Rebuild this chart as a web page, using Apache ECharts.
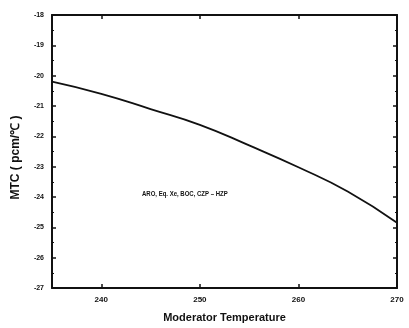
<!DOCTYPE html>
<html>
<head>
<meta charset="utf-8">
<script src="https://cdn.jsdelivr.net/npm/echarts@6/dist/echarts.min.js"></script>
<style>
  html, body { margin: 0; padding: 0; background: #fff; }
  #chart { width: 409px; height: 328px; }
</style>
</head>
<body>
<div id="chart"></div>
<script>
// moderator temperature vs MTC
const temps = [235, 240, 245, 250, 255, 260, 265, 270];
const mtc = [-20.2, -20.6, -21.1, -21.62, -22.3, -23.02, -23.82, -24.85];
const xTicks = [240, 250, 260, 270];
const yTicks = [-18, -19, -20, -21, -22, -23, -24, -25, -26, -27];
const note = 'ARO, Eq. Xe, BOC, CZP – HZP';

const chart = echarts.init(document.getElementById('chart'));
const font = 'Liberation Sans, Arial, sans-serif';
const axisBase = {
  type: 'value',
  axisLine: { show: true, onZero: false, lineStyle: { color: '#111', width: 2 } },
  axisTick: { show: true, inside: true, length: 4, lineStyle: { color: '#111', width: 1.5 } },
  minorTick: { show: true, splitNumber: 2, length: 2, lineStyle: { color: '#111' } },
  splitLine: { show: false },
};

chart.setOption({
  animation: false,
  backgroundColor: '#fff',
  grid: { left: 52, top: 15, right: 12, bottom: 40 },
  xAxis: [
    {
      ...axisBase,
      min: 235, max: 270, interval: 5,
      name: 'Moderator Temperature',
      nameLocation: 'middle',
      nameGap: 24,
      nameTextStyle: { color: '#111', fontSize: 11, fontWeight: 'bold', fontFamily: font },
      axisLabel: {
        color: '#111', fontSize: 8, fontWeight: 'bold', fontFamily: font, margin: 8,
        formatter: (v) => (xTicks.includes(v) ? String(v) : ''),
      },
      axisTick: { ...axisBase.axisTick, customValues: xTicks },
      minorTick: { show: false },
    },
    {
      ...axisBase,
      position: 'top',
      min: 235, max: 270,
      axisLabel: { show: false },
      axisTick: { ...axisBase.axisTick, customValues: xTicks },
      minorTick: { show: false },
    },
  ],
  yAxis: [
    {
      ...axisBase,
      min: -27, max: -18, interval: 1,
      name: 'MTC ( pcm/℃ )',
      nameLocation: 'middle',
      nameGap: 30,
      nameRotate: 90,
      nameTextStyle: { color: '#111', fontSize: 12, fontWeight: 'bold', fontFamily: font, padding: [0, 0, 0, -12] },
      axisLabel: {
        color: '#111', fontSize: 7, fontWeight: 'bold', fontFamily: font, margin: 8,
        customValues: yTicks,
      },
    },
    {
      ...axisBase,
      position: 'right',
      min: -27, max: -18, interval: 1,
      axisLabel: { show: false },
    },
  ],
  graphic: [
    {
      type: 'text',
      x: 142, y: 190,
      scaleX: 0.75,
      style: { text: note, fill: '#111', font: 'bold 8px ' + font },
    },
  ],
  series: [
    {
      type: 'line',
      data: temps.map((t, i) => [t, mtc[i]]),
      smooth: true,
      showSymbol: false,
      lineStyle: { color: '#111', width: 1.8 },
    },
  ],
});
</script>
</body>
</html>
